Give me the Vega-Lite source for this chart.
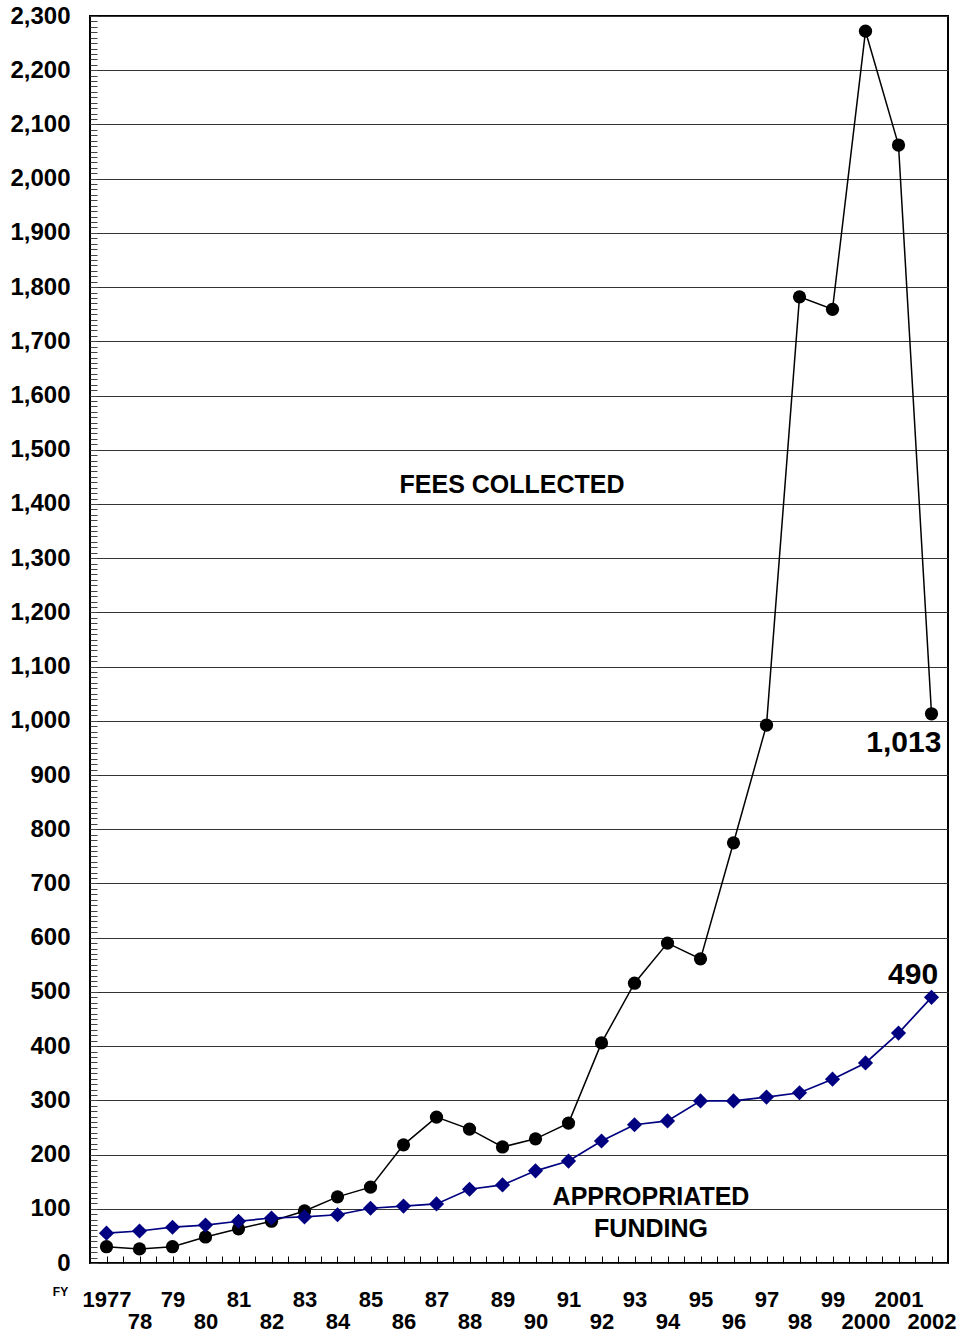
{
  "$schema": "https://vega.github.io/schema/vega-lite/v6.json",
  "autosize": "none",
  "width": 858,
  "height": 1247,
  "padding": {"left": 90, "top": 16, "right": 26, "bottom": 78},
  "background": "white",
  "config": {
    "view": {"stroke": "black", "strokeWidth": 2},
    "font": "Liberation Sans"
  },
  "datasets": {
    "series": [
      {"year": 1977, "fees": 30, "approp": 55},
      {"year": 1978, "fees": 26, "approp": 59},
      {"year": 1979, "fees": 30, "approp": 66},
      {"year": 1980, "fees": 48, "approp": 70},
      {"year": 1981, "fees": 63, "approp": 77},
      {"year": 1982, "fees": 77, "approp": 83},
      {"year": 1983, "fees": 96, "approp": 85},
      {"year": 1984, "fees": 122, "approp": 89},
      {"year": 1985, "fees": 140, "approp": 101},
      {"year": 1986, "fees": 218, "approp": 105},
      {"year": 1987, "fees": 269, "approp": 109},
      {"year": 1988, "fees": 247, "approp": 136},
      {"year": 1989, "fees": 214, "approp": 144},
      {"year": 1990, "fees": 229, "approp": 170},
      {"year": 1991, "fees": 258, "approp": 188},
      {"year": 1992, "fees": 406, "approp": 225},
      {"year": 1993, "fees": 516, "approp": 255},
      {"year": 1994, "fees": 590, "approp": 262},
      {"year": 1995, "fees": 561, "approp": 299},
      {"year": 1996, "fees": 775, "approp": 299},
      {"year": 1997, "fees": 992, "approp": 306},
      {"year": 1998, "fees": 1782, "approp": 314},
      {"year": 1999, "fees": 1759, "approp": 339},
      {"year": 2000, "fees": 2272, "approp": 369},
      {"year": 2001, "fees": 2062, "approp": 424},
      {"year": 2002, "fees": 1013, "approp": 490}
    ],
    "labels": [
      {"year": 1989.29, "value": 1435, "text": "FEES COLLECTED"},
      {"year": 1993.5, "value": 122, "text": "APPROPRIATED"},
      {"year": 1993.5, "value": 63, "text": "FUNDING"}
    ],
    "values": [
      {"year": 2002.3, "value": 959, "text": "1,013"},
      {"year": 2002.2, "value": 531, "text": "490"}
    ]
  },
  "encoding": {
    "x": {
      "field": "year",
      "type": "quantitative",
      "scale": {"domain": [1976.5, 2002.5], "nice": false, "zero": false},
      "axis": {
        "title": "FY",
        "titleFontSize": 12,
        "titleFontWeight": "bold",
        "titleX": -30,
        "titleY": 28,
        "titleAnchor": "start",
        "titleAlign": "center",
        "titleBaseline": "middle",
        "values": [1977,1977.5,1978,1978.5,1979,1979.5,1980,1980.5,1981,1981.5,1982,1982.5,1983,1983.5,1984,1984.5,1985,1985.5,1986,1986.5,1987,1987.5,1988,1988.5,1989,1989.5,1990,1990.5,1991,1991.5,1992,1992.5,1993,1993.5,1994,1994.5,1995,1995.5,1996,1996.5,1997,1997.5,1998,1998.5,1999,1999.5,2000,2000.5,2001,2001.5,2002,2002.5],
        "labelExpr": "datum.value % 1 !== 0 ? '' : (datum.value % 2 === 1 ? ((datum.value === 1977 || datum.value >= 2000) ? toString(datum.value) : substring(toString(datum.value), 2)) : ['', (datum.value >= 2000 ? toString(datum.value) : substring(toString(datum.value), 2))])",
        "labelFontSize": 22,
        "labelFontWeight": "bold",
        "labelColor": "black",
        "labelLineHeight": 22,
        "labelBaseline": "top",
        "labelPadding": 33,
        "labelOverlap": false,
        "labelFlush": false,
        "labelBound": false,
        "tickSize": -7,
        "tickColor": "black",
        "tickWidth": 1,
        "domain": false,
        "grid": false
      }
    }
  },
  "layer": [
    {
      "data": {"name": "series"},
      "mark": {"type": "line", "color": "black", "strokeWidth": 1.5},
      "encoding": {
        "y": {
          "field": "fees",
          "type": "quantitative",
          "scale": {"domain": [0, 2300], "nice": false},
          "axis": {
            "title": null,
            "tickCount": 230,
            "labelExpr": "datum.value % 100 === 0 ? format(datum.value, ',') : ''",
            "labelFontSize": 24,
            "labelFontWeight": "bold",
            "labelColor": "black",
            "labelPadding": 27,
            "labelOverlap": false,
            "labelBound": false,
            "labelFlush": false,
            "tickSize": -7,
            "tickColor": "#444",
            "tickWidth": 1,
            "domain": false,
            "grid": true,
            "gridColor": "#333",
            "gridWidth": 1,
            "gridOpacity": {"condition": {"test": "datum.value % 100 === 0", "value": 1}, "value": 0}
          }
        }
      }
    },
    {
      "data": {"name": "series"},
      "mark": {"type": "point", "shape": "circle", "filled": true, "color": "black", "size": 175, "opacity": 1},
      "encoding": {"y": {"field": "fees", "type": "quantitative"}}
    },
    {
      "data": {"name": "series"},
      "mark": {"type": "line", "color": "#000080", "strokeWidth": 1.7},
      "encoding": {"y": {"field": "approp", "type": "quantitative"}}
    },
    {
      "data": {"name": "series"},
      "mark": {"type": "point", "shape": "diamond", "filled": true, "color": "#000080", "size": 230, "opacity": 1},
      "encoding": {"y": {"field": "approp", "type": "quantitative"}}
    },
    {
      "data": {"name": "labels"},
      "mark": {"type": "text", "fontSize": 25, "fontWeight": "bold", "color": "black", "align": "center", "baseline": "middle"},
      "encoding": {
        "y": {"field": "value", "type": "quantitative"},
        "text": {"field": "text", "type": "nominal"}
      }
    },
    {
      "data": {"name": "values"},
      "mark": {"type": "text", "fontSize": 30, "fontWeight": "bold", "color": "black", "align": "right", "baseline": "middle"},
      "encoding": {
        "y": {"field": "value", "type": "quantitative"},
        "text": {"field": "text", "type": "nominal"}
      }
    }
  ]
}
